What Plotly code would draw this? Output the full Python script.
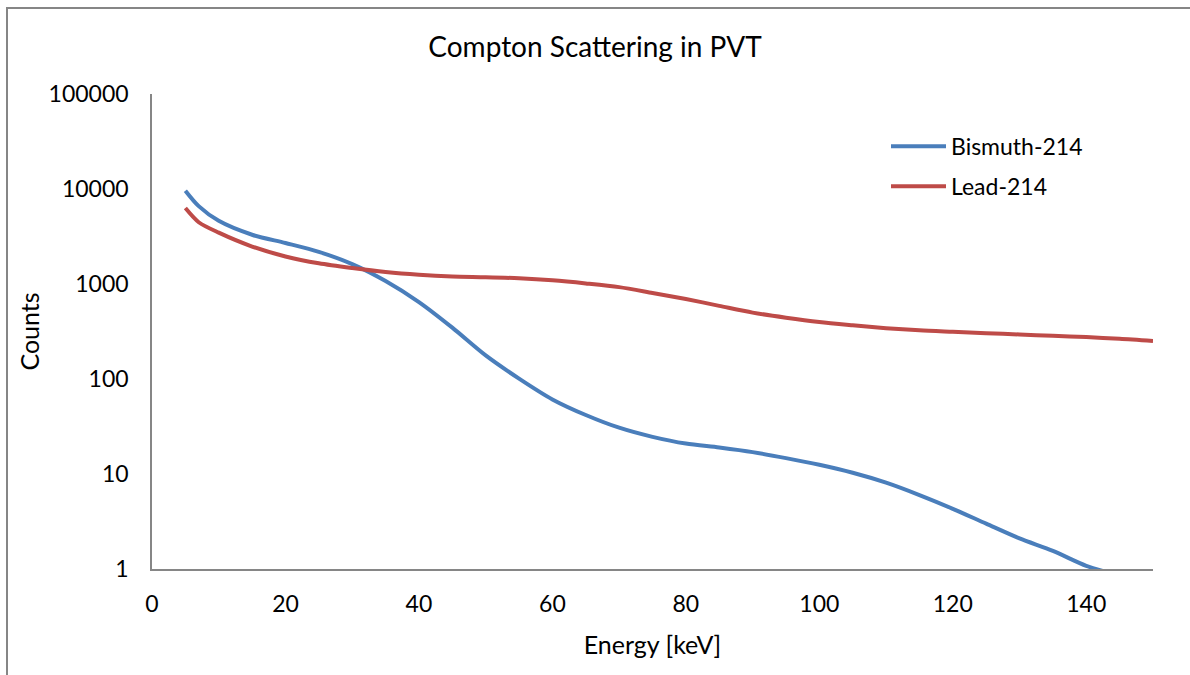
import plotly.graph_objects as go

# Energy grid (keV) and counts for each isotope
energy_bi = [5, 7, 10, 15, 20, 25, 30, 35, 40, 45, 50, 55, 60, 65, 70, 75, 80,
             85, 90, 95, 100, 105, 110, 115, 120, 125, 130, 135, 140, 143]
counts_bi = [9600, 6600, 4620, 3300, 2700, 2180, 1620, 1075, 645, 347, 177, 101,
             61, 41.8, 30.7, 24.6, 20.9, 19.0, 17.0, 14.7, 12.5, 10.3, 8.1, 6.0,
             4.3, 3.0, 2.1, 1.55, 1.08, 0.93]

energy_pb = [5, 7, 10, 15, 20, 25, 30, 35, 40, 45, 50, 55, 60, 65, 70, 75, 80,
             85, 90, 95, 100, 105, 110, 115, 120, 125, 130, 135, 140, 145, 150]
counts_pb = [6300, 4470, 3470, 2480, 1950, 1650, 1470, 1335, 1250, 1200, 1180,
             1150, 1095, 1015, 927, 805, 695, 589, 500, 442, 398, 368, 343, 325,
             314, 304, 294, 285, 276, 265, 251]

x_ticks = [0, 20, 40, 60, 80, 100, 120, 140]
y_ticks = [1, 10, 100, 1000, 10000, 100000]

FONT = "Lato"
AXIS_GRAY = "#868686"

fig = go.Figure()
fig.add_trace(go.Scatter(x=energy_bi, y=counts_bi, mode="lines", name="Bismuth-214",
                         legendgroup="bi",
                         line=dict(color="#4a7ebb", width=4, shape="spline", smoothing=0.8)))
fig.add_trace(go.Scatter(x=energy_pb, y=counts_pb, mode="lines", name="Lead-214",
                         legendgroup="pb",
                         line=dict(color="#be4b48", width=4, shape="spline", smoothing=0.8)))

fig.update_layout(
    width=1190, height=675,
    margin=dict(l=152, r=37, t=94, b=106),
    paper_bgcolor="white", plot_bgcolor="white",
    font=dict(family=FONT, size=23, color="black"),
    title=dict(text="Compton Scattering in PVT", x=0.5, xanchor="center",
               y=1 - 47 / 675, yanchor="middle",
               font=dict(family=FONT, size=28, color="black")),
    legend=dict(x=(886 - 152) / 1001, y=0.935, xanchor="left", yanchor="top",
                bgcolor="rgba(0,0,0,0)", font=dict(size=23),
                itemwidth=55, traceorder="grouped", tracegroupgap=7),
    showlegend=True,
)

fig.update_xaxes(range=[0, 150], tickvals=x_ticks, ticktext=[str(v) for v in x_ticks],
                 showgrid=False, zeroline=False, showline=True, linecolor=AXIS_GRAY,
                 linewidth=1.5, ticks="", tickfont=dict(size=23), ticklabelstandoff=14,
                 title=dict(text="Energy [keV]", font=dict(size=25), standoff=20))
fig.update_yaxes(type="log", range=[0, 5], tickvals=y_ticks,
                 ticktext=[str(v) for v in y_ticks],
                 showgrid=False, zeroline=False, showline=True, linecolor=AXIS_GRAY,
                 linewidth=1.5, ticks="", tickfont=dict(size=23), ticklabelstandoff=17,
                 title=dict(text="Counts", font=dict(size=25), standoff=2))

# Outer chart-area frame (left and top edges visible)
fig.add_shape(type="rect", xref="paper", yref="paper",
              x0=(7 - 152) / 1001, x1=1.2, y0=-0.5, y1=(569 - 8) / 475,
              line=dict(color="#868686", width=2), fillcolor="rgba(0,0,0,0)", layer="below")

fig.write_html("out.html")
